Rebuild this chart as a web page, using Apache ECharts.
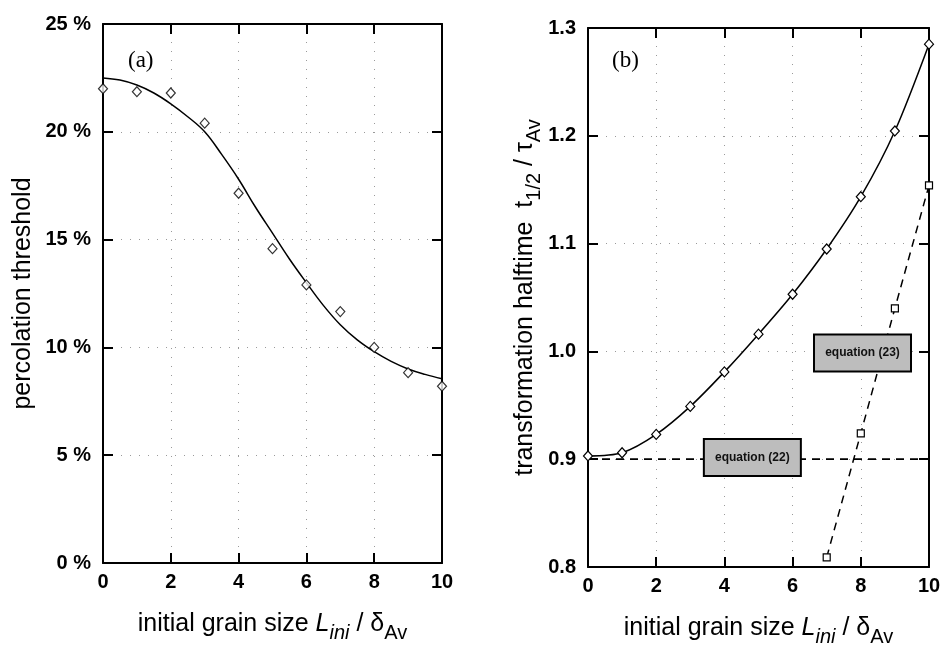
<!DOCTYPE html>
<html><head><meta charset="utf-8">
<script src="https://cdn.jsdelivr.net/npm/echarts@6.0.0/dist/echarts.min.js"></script>
<style>html,body{margin:0;padding:0;background:#fff}#c{width:941px;height:645px}</style>
</head><body><div id="c"></div>
<script>
// ---- data ----
const xCats = [0, 1, 2, 3, 4, 5, 6, 7, 8, 9, 10];
const percolationPoints = [22.0, 21.86, 21.8, 20.4, 17.15, 14.58, 12.9, 11.66, 10.0, 8.83, 8.2];
const percolationFitX = [0, 0.5, 1, 1.5, 2, 2.5, 3, 3.5, 4, 4.5, 5, 5.5, 6, 6.5, 7, 7.5, 8, 8.5, 9, 9.5, 10];
const percolationFit = [22.5, 22.4, 22.17, 21.8, 21.3, 20.7, 20.0, 18.95, 17.8, 16.5, 15.3, 14.1, 13.0, 11.95, 11.05, 10.35, 9.8, 9.35, 9.0, 8.75, 8.55];
const halftime = [0.903, 0.906, 0.923, 0.949, 0.981, 1.016, 1.053, 1.095, 1.1435, 1.2045, 1.285];
const eq23X = [7, 8, 9, 10];
const eq23 = [0.809, 0.924, 1.04, 1.154];
const eq22X = [0, 10];
const eq22 = [0.9, 0.9];
const aTicks = { min: 0, max: 25, step: 5 };
const bTicks = { min: 0.8, max: 1.3, step: 0.1 };
const xTicks = { min: 0, max: 10, step: 2 };
const eq22Label = { text: 'equation (22)', at: [4.82, 0.9015] };
const eq23Label = { text: 'equation (23)', at: [8.05, 0.9985] };

const pairs = (xs, ys) => xs.map((x, i) => [x, ys[i]]);

const FONT = '"Liberation Sans", Arial, Helvetica, sans-serif';
const lineBlack = { color: '#000', width: 2 };
const splitDotted = { show: true, lineStyle: { color: '#9a9a9a', width: 1, type: [1, 8] } };
const tickLabel = { fontFamily: FONT, fontWeight: 'bold', fontSize: 20, color: '#000' };
const rich = {
  n: { fontFamily: FONT, fontSize: 25, color: '#000', lineHeight: 38 },
  i: { fontFamily: FONT, fontSize: 25, fontStyle: 'italic', color: '#000', lineHeight: 38 },
  is: { fontFamily: FONT, fontSize: 20, fontStyle: 'italic', color: '#000', verticalAlign: 'bottom' },
  s: { fontFamily: FONT, fontSize: 20, color: '#000', verticalAlign: 'bottom' }
};
const xName = '{n|initial grain size }{i|L}{is|ini}{n| / δ}{s|Av}';

function xAx(grid, pos, main) {
  return {
    type: 'value', gridIndex: grid, position: pos,
    min: xTicks.min, max: xTicks.max, interval: xTicks.step,
    axisLine: { show: true, onZero: false, lineStyle: lineBlack },
    axisTick: { show: true, inside: true, length: 10, lineStyle: lineBlack },
    axisLabel: main ? Object.assign({ show: true, margin: 9 }, tickLabel) : { show: false },
    splitLine: main ? splitDotted : { show: false },
    name: main ? xName : '', nameLocation: 'middle', nameGap: 42,
    nameTextStyle: { rich: rich }
  };
}
function yAx(grid, pos, main, t, fmt, name, gap) {
  return {
    type: 'value', gridIndex: grid, position: pos,
    min: t.min, max: t.max, interval: t.step,
    axisLine: { show: true, onZero: false, lineStyle: lineBlack },
    axisTick: { show: true, inside: true, length: 10, lineStyle: lineBlack },
    axisLabel: main ? Object.assign({ show: true, margin: 12, formatter: fmt }, tickLabel) : { show: false },
    splitLine: main ? splitDotted : { show: false },
    name: main ? name : '', nameLocation: 'middle', nameGap: gap,
    nameTextStyle: { rich: rich }
  };
}

const boxLabel = (txt) => ({
  show: true, formatter: txt, color: '#111', fontFamily: FONT, fontWeight: 'bold', fontSize: 12,
  backgroundColor: '#bdbdbd', borderColor: '#000', borderWidth: 2,
  width: 95, height: 35, lineHeight: 35, align: 'center', verticalAlign: 'middle', position: 'inside'
});

const chart = echarts.init(document.getElementById('c'), null, { renderer: 'canvas' });
chart.setOption({
  animation: false,
  backgroundColor: '#fff',
  grid: [
    { left: 103, right: 499, top: 24, bottom: 82, outerBoundsMode: 'none', containLabel: false },
    { left: 588, right: 12, top: 28, bottom: 78, outerBoundsMode: 'none', containLabel: false }
  ],
  xAxis: [xAx(0, 'bottom', true), xAx(0, 'top', false), xAx(1, 'bottom', true), xAx(1, 'top', false)],
  yAxis: [
    yAx(0, 'left', true, aTicks, v => v + ' %', '{n|percolation threshold}', 61),
    yAx(0, 'right', false, aTicks),
    yAx(1, 'left', true, bTicks, v => v.toFixed(1), '{n|transformation halftime  t}{s|1/2}{n| / τ}{s|Av}', 38),
    yAx(1, 'right', false, bTicks)
  ],
  graphic: [
    { type: 'text', left: 128, top: 49, style: { text: '(a)', font: '23px "Liberation Serif", "Times New Roman", serif', fill: '#000' } },
    { type: 'text', left: 612, top: 49, style: { text: '(b)', font: '23px "Liberation Serif", "Times New Roman", serif', fill: '#000' } }
  ],
  series: [
    {
      type: 'line', xAxisIndex: 0, yAxisIndex: 0, smooth: 0.4, showSymbol: false,
      data: pairs(percolationFitX, percolationFit),
      lineStyle: { color: '#000', width: 1.5 }, z: 2
    },
    {
      type: 'scatter', xAxisIndex: 0, yAxisIndex: 0, symbol: 'diamond', symbolSize: [9, 10],
      data: pairs(xCats, percolationPoints), clip: false,
      itemStyle: { color: '#fff', borderColor: '#000', borderWidth: 1.2 }, z: 5
    },
    {
      type: 'line', xAxisIndex: 2, yAxisIndex: 2, data: pairs(eq22X, eq22), showSymbol: false,
      lineStyle: { color: '#000', width: 1.8, type: [8, 6] }, z: 2,
      markPoint: {
        symbol: 'rect', symbolSize: 1, animation: false,
        data: [{ coord: eq22Label.at, value: eq22Label.text }],
        itemStyle: { color: 'rgba(0,0,0,0)' },
        label: boxLabel(eq22Label.text)
      }
    },
    {
      type: 'line', xAxisIndex: 2, yAxisIndex: 2, data: pairs(eq23X, eq23),
      symbol: 'rect', symbolSize: 7, showSymbol: true,
      itemStyle: { color: '#fff', borderColor: '#000', borderWidth: 1.2 },
      lineStyle: { color: '#000', width: 1.5, type: [8, 6] }, z: 3,
      markPoint: {
        symbol: 'rect', symbolSize: 1, animation: false,
        data: [{ coord: eq23Label.at, value: eq23Label.text }],
        itemStyle: { color: 'rgba(0,0,0,0)' },
        label: boxLabel(eq23Label.text)
      }
    },
    {
      type: 'line', xAxisIndex: 2, yAxisIndex: 2, smooth: 0.3, data: pairs(xCats, halftime),
      symbol: 'diamond', symbolSize: [9, 10], showSymbol: true, clip: false,
      itemStyle: { color: '#fff', borderColor: '#000', borderWidth: 1.2 },
      lineStyle: { color: '#000', width: 1.5 }, z: 4
    }
  ]
});
</script>
</body></html>
